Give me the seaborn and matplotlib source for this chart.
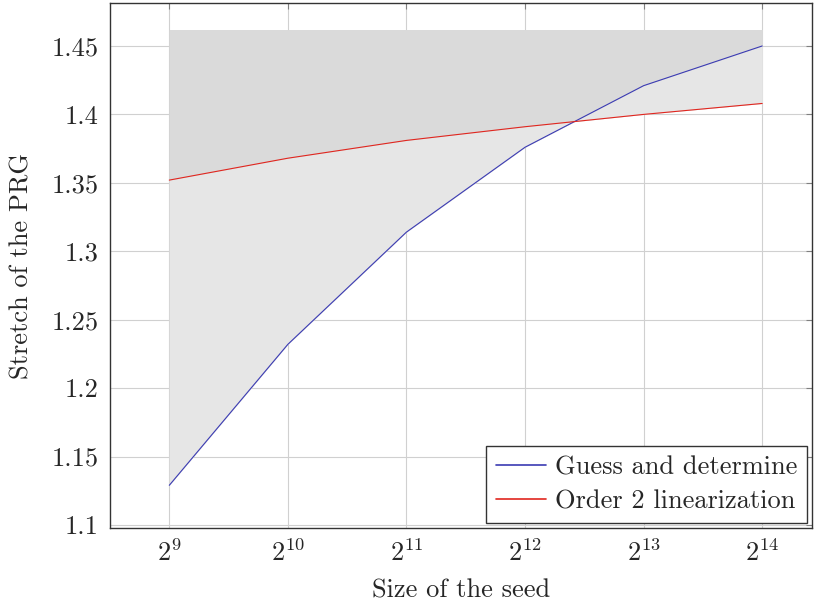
import matplotlib
matplotlib.use("Agg")
import matplotlib.pyplot as plt
import seaborn as sns
import pandas as pd
import numpy as np

exponents = [9, 10, 11, 12, 13, 14]
guess_and_determine = [1.129, 1.232, 1.314, 1.376, 1.421, 1.450]
order2_linearization = [1.352, 1.368, 1.381, 1.391, 1.400, 1.408]
series_names = ["Guess and determine", "Order 2 linearization"]
fill_top = 1.462

sns.set_style("white")
plt.rcParams['font.family'] = ['serif']
plt.rcParams['font.serif'] = ['cmr10', 'DejaVu Serif']
plt.rcParams['mathtext.fontset'] = 'cm'
plt.rcParams['axes.formatter.use_mathtext'] = True

df = pd.DataFrame({
    "x": exponents * 2,
    "y": guess_and_determine + order2_linearization,
    "series": [series_names[0]] * 6 + [series_names[1]] * 6,
})

fig = plt.figure(figsize=(8.14, 6.02), dpi=100)
ax = fig.add_axes([110 / 814, 1 - 528 / 602, (812 - 110) / 814, (528 - 3) / 602])

x = np.array(exponents)
g = np.array(guess_and_determine)
r = np.array(order2_linearization)
ax.fill_between(x, g, fill_top, color='#dadada', linewidth=0, zorder=1)
ax.fill_between(x, r, fill_top, color='#dadada', linewidth=0, zorder=1)
ax.fill_between(x, g, r, color='#e6e6e6', linewidth=0, zorder=1.5)

sns.lineplot(data=df, x="x", y="y", hue="series",
             palette=['#3b3bb3', '#e0261f'], linewidth=0.8, ax=ax, zorder=3)

ax.set_xlim(8.5, 14.42)
ax.set_ylim(1.0978, 1.4814)
ax.set_xticks(exponents)
ax.set_xticklabels([f"$2^{{{e}}}$" for e in exponents])
yt = [1.1, 1.15, 1.2, 1.25, 1.3, 1.35, 1.4, 1.45]
ax.set_yticks(yt)
ax.set_yticklabels(["1.1", "1.15", "1.2", "1.25", "1.3", "1.35", "1.4", "1.45"])
ax.grid(True, color='#d0d0d0', linewidth=0.8, zorder=0)
ax.set_axisbelow(True)
ax.tick_params(axis='both', which='major', direction='in', length=4, width=0.8,
               color='#808080', labelsize=19, top=True, right=True, pad=8)
for s in ax.spines.values():
    s.set_color('#333333')
    s.set_linewidth(1.0)

ax.set_xlabel("Size of the seed", fontsize=19, labelpad=9)
ax.set_ylabel("Stretch of the PRG", fontsize=19, labelpad=13)

leg = ax.legend(loc='lower right', fontsize=19, frameon=True, fancybox=False,
                edgecolor='#333333', framealpha=1, borderaxespad=0.2,
                handlelength=1.9, handletextpad=0.35, labelspacing=0.4, borderpad=0.35)
leg.get_frame().set_linewidth(1.0)
for line in leg.get_lines():
    line.set_linewidth(1.2)

fig.savefig("out.png", dpi=100)
